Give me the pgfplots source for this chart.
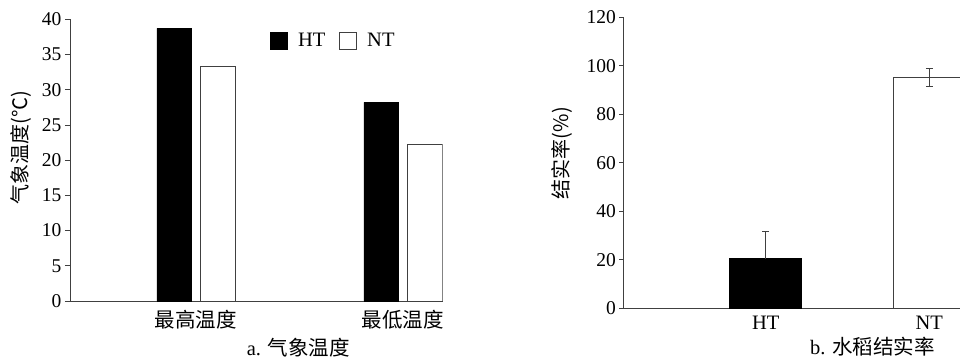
\documentclass[border=0pt]{standalone}
\usepackage{fontspec}
\setmainfont{Liberation Serif}
\newfontfamily\cjk{Noto Sans CJK SC}
\usepackage{pgfplots}
\pgfplotsset{compat=1.18}
\definecolor{axgray}{HTML}{404040}
\begin{document}
\begin{tikzpicture}
\useasboundingbox (0,0) rectangle (960pt,359pt);
\clip (0,0) rectangle (960pt,359pt);
\pgfplotsset{
  mystyle/.style={
    scale only axis,
    axis x line=bottom, axis y line=left,
    axis line style={-, draw=axgray, line width=1pt},
    ytick align=outside, ytick pos=left,
    xtick style={draw=none},
    ytick style={draw=axgray, line width=0.8pt},
    yticklabel style={font=\fontsize{19.5}{22}\selectfont},
    /pgf/number format/assume math mode=true,
    anchor=south west,
    ybar, bar shift=0pt,
  },
  sqlegend/.style={legend image code/.code={\draw[##1,line width=0.8pt] (0pt,-8.5pt) rectangle (17pt,8.5pt);}},
}
\begin{axis}[mystyle, at={(70.7pt,58pt)}, width=372pt, height=281.7pt,
  xmin=0.395, xmax=2.192, ymin=0, ymax=40, ytick={0,5,...,40},
  major tick length=5.7pt, bar width=0.1667,
  xtick={1,2}, xticklabels={最高温度,最低温度},
  xticklabel style={font=\cjk\fontsize{20.5}{24}\selectfont},
  ylabel={气象温度(℃)},
  every axis y label/.style={at={(axis description cs:0,0.545)}, xshift=-50pt, rotate=90, anchor=center, font=\cjk\fontsize{20}{24}\selectfont},
  xlabel={a. {\cjk 气象温度}},
  every axis x label/.style={at={(axis description cs:0.612,0)}, yshift=-46.5pt, anchor=center, font=\fontsize{20.5}{24}\selectfont},
  legend style={draw=none, fill=none, legend columns=2, inner sep=0pt,
    font=\fontsize{20.5}{24}\selectfont,
    at={(axis description cs:0.536,0.925)}, anchor=west,
    /tikz/every odd column/.append style={column sep=8pt},
    /tikz/every even column/.append style={column sep=12pt}},
]
\addplot[fill=black, draw=black, line width=0.8pt, sqlegend] coordinates {(0.895,38.7) (1.895,28.2)};
\addplot[fill=white, draw=axgray, line width=0.8pt, sqlegend] coordinates {(1.105,33.3) (2.105,22.25)};
\legend{HT,NT}
\end{axis}
\begin{axis}[mystyle, at={(623.3pt,50.7pt)}, width=400pt, height=291pt,
  xmin=0.1284, xmax=2.575, ymin=0, ymax=120, ytick={0,20,...,120},
  major tick length=4pt, bar width=0.44,
  xtick={1,2}, xticklabels={HT,NT},
  xticklabel style={font=\fontsize{20.5}{24}\selectfont},
  ylabel={结实率(\%)},
  every axis y label/.style={at={(axis description cs:0,0.533)}, xshift=-61.6pt, rotate=90, anchor=center, font=\cjk\fontsize{20}{24}\selectfont},
  xlabel={b. {\cjk 水稻结实率}},
  every axis x label/.style={at={(axis description cs:0.6228,0)}, yshift=-38.4pt, anchor=center, font=\fontsize{20.5}{24}\selectfont},
]
\addplot[fill=black, draw=black, line width=0.8pt,
  error bars/.cd, y dir=plus, y explicit,
  error bar style={draw=axgray, line width=0.8pt},
  error mark options={rotate=90, mark size=3.5pt, draw=axgray, line width=0.8pt}]
  coordinates {(1,20.45) +- (0,11.4)};
\addplot[fill=white, draw=axgray, line width=0.8pt,
  error bars/.cd, y dir=both, y explicit,
  error bar style={draw=axgray, line width=0.8pt},
  error mark options={rotate=90, mark size=3.5pt, draw=axgray, line width=0.8pt}]
  coordinates {(2,95.2) +- (0,3.85)};
\end{axis}
\end{tikzpicture}
\end{document}
